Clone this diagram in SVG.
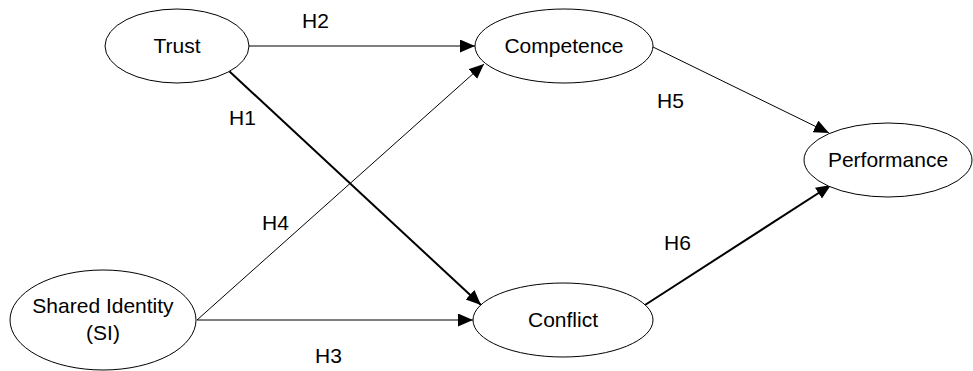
<svg xmlns="http://www.w3.org/2000/svg" width="973" height="371" viewBox="0 0 973 371">
<style>
.node{fill:#fff;stroke:#000;stroke-width:1}
.t{font-family:"Liberation Sans",Arial,sans-serif;font-size:21px;fill:#000}
.c{text-anchor:middle}
.e{stroke:#000;fill:none;stroke-width:1}
.b{stroke-width:2}
</style>
<defs>
<marker id="ah" markerUnits="userSpaceOnUse" markerWidth="16" markerHeight="14" refX="15" refY="6.5" orient="auto">
<path d="M0,0 L15,6.5 L0,13 Z" fill="#000"/>
</marker>
</defs>
<rect width="973" height="371" fill="#fff"/>
<g id="connectors">
<line class="e" x1="248" y1="46" x2="475" y2="46" marker-end="url(#ah)"/>
<line class="e b" x1="229" y1="71" x2="481" y2="305" marker-end="url(#ah)"/>
<line class="e" x1="197" y1="320" x2="484" y2="64" marker-end="url(#ah)"/>
<line class="e" x1="197" y1="320" x2="473" y2="320" marker-end="url(#ah)"/>
<line class="e" x1="653" y1="47" x2="829" y2="133" marker-end="url(#ah)"/>
<line class="e b" x1="645" y1="305" x2="831" y2="185" marker-end="url(#ah)"/>
<text class="t" x="302" y="28">H2</text>
<text class="t" x="229" y="125">H1</text>
<text class="t" x="657" y="108">H5</text>
<text class="t" x="262" y="230">H4</text>
<text class="t" x="315" y="363">H3</text>
<text class="t" x="664" y="250">H6</text>
</g>
<g id="trust">
<ellipse class="node" cx="177" cy="46" rx="72" ry="37"/>
<text class="t c" x="177" y="53">Trust</text>
</g>
<g id="competence">
<ellipse class="node" cx="564" cy="46" rx="89" ry="37"/>
<text class="t c" x="564" y="53">Competence</text>
</g>
<g id="performance">
<ellipse class="node" cx="888" cy="160" rx="84" ry="37"/>
<text class="t c" x="888" y="167">Performance</text>
</g>
<g id="shared-identity">
<ellipse class="node" cx="103" cy="320" rx="93" ry="50"/>
<text class="t c" x="103" y="313">Shared Identity</text>
<text class="t c" x="103" y="340">(SI)</text>
</g>
<g id="conflict">
<ellipse class="node" cx="563" cy="320" rx="90" ry="37"/>
<text class="t c" x="563" y="327">Conflict</text>
</g>
</svg>
